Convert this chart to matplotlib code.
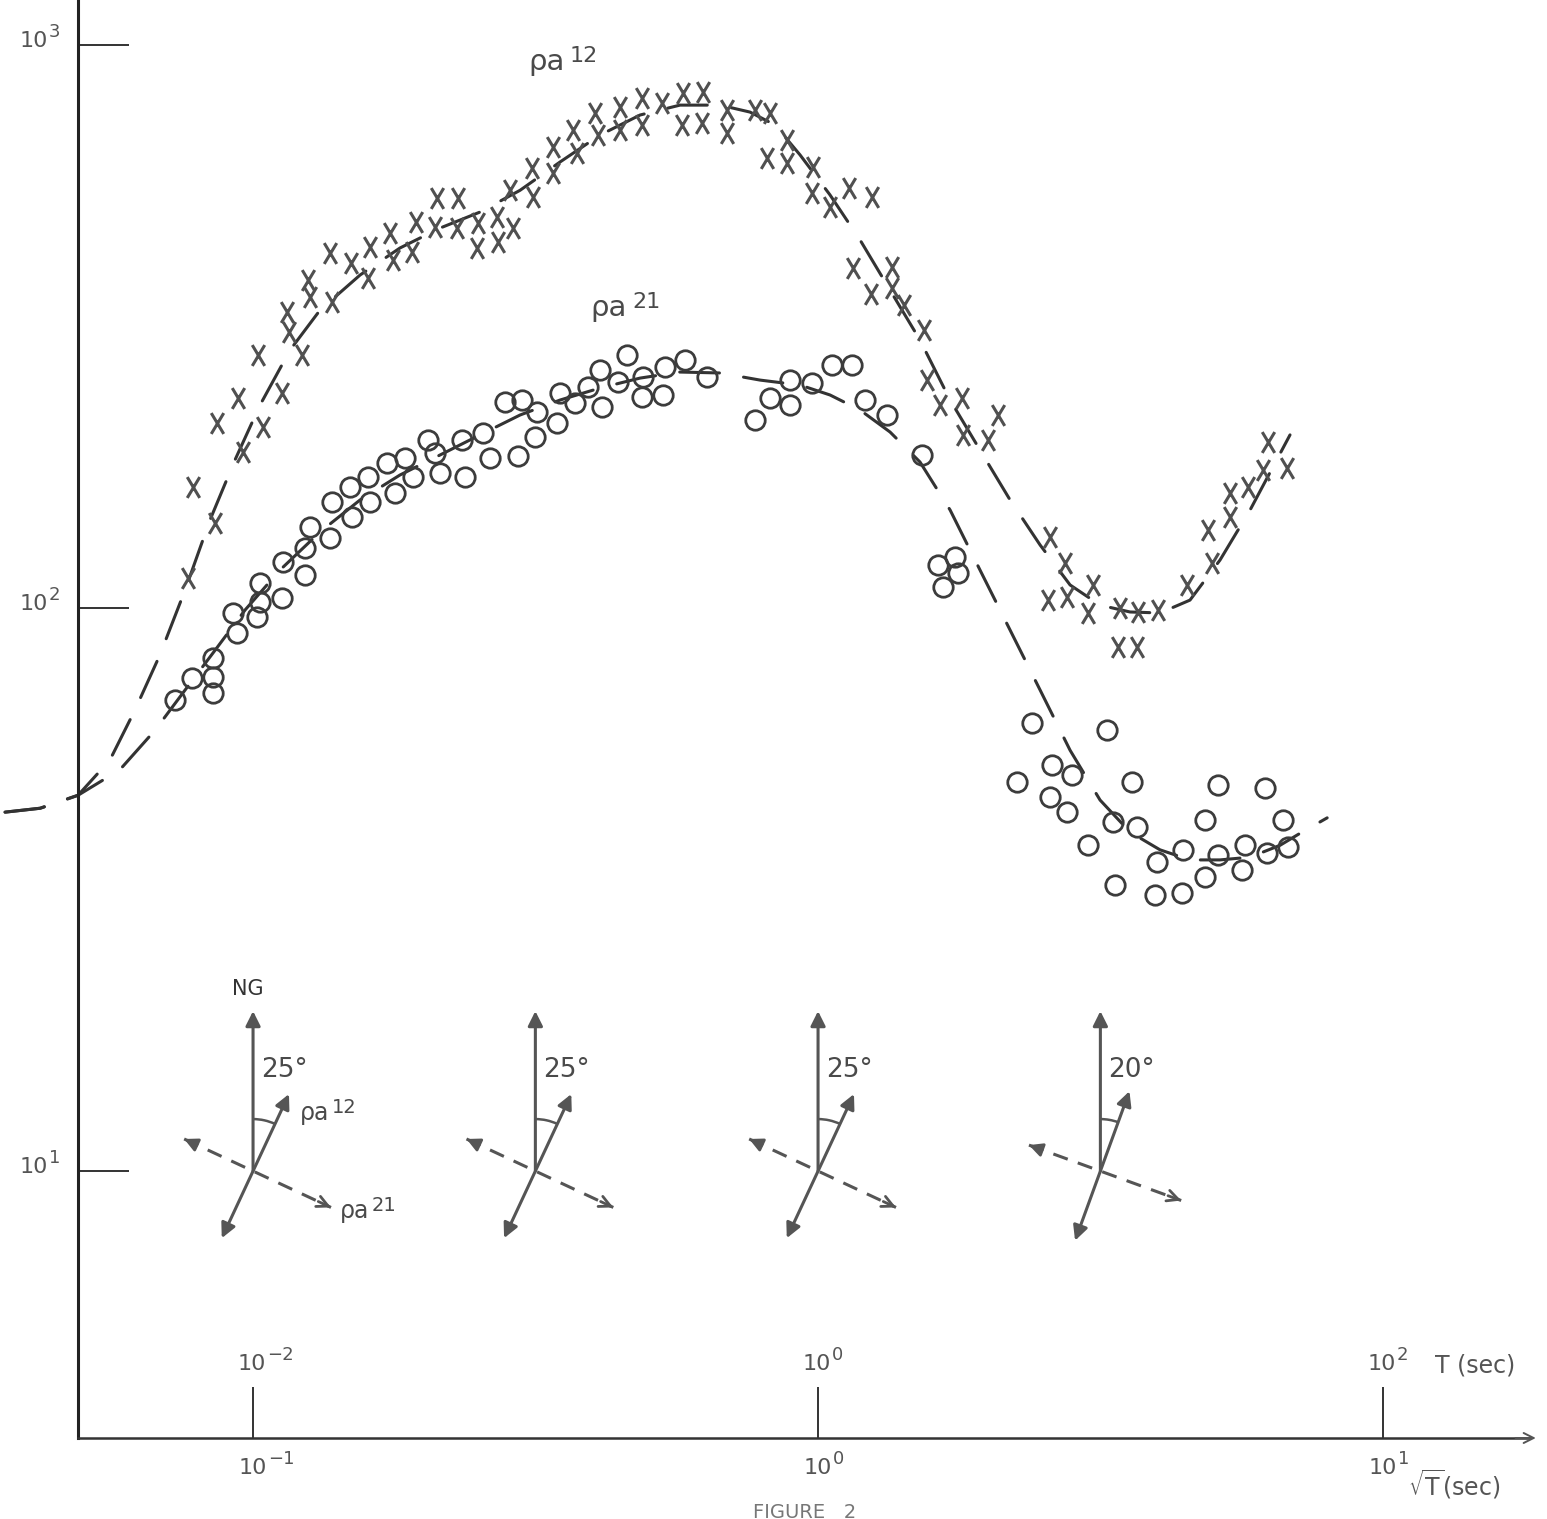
import numpy as np
import matplotlib
matplotlib.use('Agg')
import matplotlib.pyplot as plt
from matplotlib.path import Path
from matplotlib.patches import Arc
from matplotlib.ticker import NullLocator
from matplotlib.transforms import blended_transform_factory

plt.rcParams['font.family'] = ['DejaVu Sans']

# ---------------- data ----------------
# rho_a 12 measurements (crosses): x = sqrt(T) [sec^0.5], y = apparent resistivity
rho12_sqrtT = [0.0767, 0.0783, 0.0857, 0.0863, 0.0941, 0.0960, 0.102, 0.104, 0.1125, 0.122,
               0.115, 0.116, 0.125, 0.126, 0.138, 0.137, 0.149, 0.160, 0.161, 0.175,
               0.177, 0.191, 0.194, 0.212, 0.231, 0.210, 0.230, 0.250, 0.249, 0.270,
               0.271, 0.289, 0.285, 0.312, 0.313, 0.340, 0.340, 0.369, 0.375, 0.403,
               0.408, 0.446, 0.446, 0.488, 0.488, 0.530, 0.577, 0.626, 0.574, 0.623,
               0.690, 0.690, 0.774, 0.822, 0.881, 0.812, 0.881, 0.980, 0.976, 1.050,
               1.135, 1.246, 1.153, 1.241, 1.352, 1.352, 1.420, 1.540, 1.560, 1.644,
               1.798, 1.806, 2.000, 2.083, 2.574, 2.736, 2.553, 2.759, 3.067, 3.006,
               3.423, 3.685, 3.998, 3.396, 3.670, 4.498, 4.898, 4.980, 5.36, 5.36,
               5.77, 6.26, 6.13, 6.76]
rho12_val = [113, 164, 141.6, 213, 236, 189, 281, 210, 241, 281,
             336, 309, 382, 357, 350, 427, 410, 385, 437, 463,
             415, 429, 485, 535, 535, 475, 473, 483, 436, 495,
             447, 473, 552, 605, 537, 659, 592, 706, 643, 757,
             692, 776, 706, 805, 721, 789, 822, 825, 721, 727,
             766, 698, 766, 757, 678, 630, 617, 607, 546, 515,
             557, 537, 402, 361, 403, 370, 345, 312, 254, 229,
             236, 203, 199, 220, 133.7, 120, 103.3, 104.6, 109.9, 98.0,
             100, 98.4, 99.2, 85.3, 85.3, 109.9, 137.5, 120, 160, 145.1,
             164, 197, 175.8, 177]

# rho_a 21 measurements (circles)
rho21_sqrtT = [0.0728, 0.0780, 0.0850, 0.0850, 0.0850, 0.0937, 0.0922, 0.1017, 0.1029, 0.1029,
               0.1125, 0.1130, 0.1236, 0.1236, 0.1262, 0.1368, 0.138, 0.1486, 0.1496, 0.160,
               0.161, 0.1726, 0.1783, 0.1858, 0.1919, 0.2041, 0.210, 0.2143, 0.2344, 0.2372,
               0.2553, 0.2627, 0.2793, 0.2993, 0.2944, 0.3182, 0.3156, 0.3494, 0.3451, 0.3715,
               0.3917, 0.4113, 0.4147, 0.4426, 0.4592, 0.4900, 0.4881, 0.5361, 0.5317, 0.5816,
               0.6361, 0.7736, 0.8222, 0.8921, 0.8921, 0.9759, 1.059, 1.149, 1.211, 1.325,
               1.528, 1.631, 1.748, 1.769, 1.665, 2.392, 3.248, 2.250, 2.595, 2.816,
               3.596, 2.574, 2.759, 3.006, 3.327, 3.670, 5.105, 6.182, 4.841, 6.653,
               3.981, 4.426, 5.105, 5.700, 5.629, 6.233, 6.789, 3.355, 3.950, 4.408, 4.841]
rho21_val = [68.6, 75.1, 81.5, 75.4, 70.6, 90.3, 98.0, 96.4, 102.5, 110.8,
             104.2, 120.7, 114.4, 127.8, 139.3, 133.2, 154.3, 164, 145.1, 170.9,
             154.3, 180.9, 160, 184.7, 170.9, 198.6, 188.5, 173.7, 198.6, 170.9,
             204.6, 184.7, 232.2, 234.1, 186.2, 222.9, 201.3, 241, 213.1, 231.2,
             246.9, 264.7, 227.5, 252, 281, 257.2, 237.1, 267.9, 239, 275.7,
             257.2, 215.8, 236, 254, 229.4, 250.9, 270.2, 270.2, 234.1, 220.2,
             187.0, 119.2, 123.2, 115.4, 109.0, 62.5, 60.7, 49.1, 52.6, 50.5,
             49.1, 46.2, 43.4, 37.9, 41.7, 40.8, 48.5, 47.9, 42.0, 42.0,
             35.4, 37.2, 36.4, 37.9, 34.2, 36.7, 37.6, 32.2, 30.9, 31.2, 33.3]

# hand-drawn dashed interpretation curves
fit12_sqrtT = [0.0364, 0.0420, 0.0490, 0.0558, 0.0618, 0.0684, 0.0758, 0.0839, 0.0929, 0.1029,
               0.1163, 0.1314, 0.1547, 0.1820, 0.2143, 0.2522, 0.2969, 0.3494, 0.4113, 0.4842,
               0.5697, 0.6709, 0.7580, 0.8391, 0.9294, 1.050, 1.187, 1.341, 1.515, 1.713,
               1.935, 2.187, 2.472, 2.793, 3.156, 3.566, 4.030, 4.553, 5.146, 5.816, 6.844]
fit12_val = [43.4, 44.1, 46.5, 53.7, 65.9, 82.5, 107.6, 143.3, 183.2, 229.4,
             287.3, 338.2, 390.4, 436, 473, 505, 552, 619.7, 692, 751,
             782, 782, 760, 721, 637.8, 541.6, 450.4, 367, 299.2, 234.1,
             190.8, 155.6, 129.4, 109.9, 101.2, 98.4, 98.0, 103.3, 121.7, 149.3, 203]
fit21_sqrtT = [0.0364, 0.0420, 0.0490, 0.0581, 0.0671, 0.0758, 0.0857, 0.0968, 0.1116, 0.1314,
               0.1547, 0.1820, 0.2143, 0.2522, 0.2969, 0.3494, 0.4113, 0.4842, 0.5697, 0.6709,
               0.7898, 0.9294, 1.050, 1.187, 1.341, 1.515, 1.713, 1.935, 2.187, 2.472,
               2.793, 3.156, 3.566, 4.030, 4.553, 5.146, 5.816, 6.572, 7.129, 7.963]
fit21_val = [43.4, 44.1, 46.5, 51.6, 60.7, 71.5, 84.2, 99.2, 116.8, 136.5,
             155.6, 172.3, 187, 203, 220.2, 234.1, 245.9, 256.1, 262.5, 261.5,
             254, 248.9, 239, 224.7, 205.4, 181.7, 149.3, 116.8, 91.4, 71.5,
             55.9, 45.6, 40.0, 37.2, 35.7, 35.7, 36.1, 37.9, 39.8, 42.4]

# orientation diagrams (period position and angle from geographic north)
orient_sqrtT = [0.1, 0.316, 1.0, 3.16]
orient_deg = [25, 25, 25, 20]
orient_level = 10

yticks = [10, 100, 1000]
ytick_exp = ['1', '2', '3']
xticks = [0.1, 1, 10]
xtick_exp = ['\u22121', '0', '1']
T_ticks = [1e-2, 1e0, 1e2]
T_tick_exp = ['\u22122', '0', '2']

# ---------------- figure ----------------
W, H = 1547, 1519
fig = plt.figure(figsize=(W / 100, H / 100), dpi=100)
fig.patch.set_facecolor('white')
ax = fig.add_axes([78 / W, (H - 1438) / H, (1530 - 78) / W, 1438 / H])
ax.set_xscale('log')
ax.set_yscale('log')
ax.set_xlim(0.0490, 18.2)
ax.set_ylim(3.357, 1202)

LC = '#333333'
MC = '#505050'
CC = '#3c3c3c'
TC = '#4a4a4a'
KC = '#555555'

# dashed curves
for xs, ys in [(fit12_sqrtT, fit12_val), (fit21_sqrtT, fit21_val)]:
    ln, = ax.plot(xs, ys, color=LC, lw=2.2, clip_on=False, zorder=2)
    ln.set_dashes((13, 8))
    ln.set_dash_capstyle('round')

xmarker = Path([(-0.3, -0.5), (0.3, 0.5), (-0.3, 0.5), (0.3, -0.5)],
               [Path.MOVETO, Path.LINETO, Path.MOVETO, Path.LINETO])
ax.plot(rho12_sqrtT, rho12_val, ls='none', marker=xmarker, ms=15, mew=2.2,
        mec=MC, mfc='none', zorder=3)
ax.plot(rho21_sqrtT, rho21_val, ls='none', marker='o', ms=14, mew=2.0,
        mec=CC, mfc='none', zorder=3)

# spines / ticks
for s in ['top', 'right']:
    ax.spines[s].set_visible(False)
ax.spines['left'].set_linewidth(2.2)
ax.spines['bottom'].set_linewidth(1.8)
ax.spines['left'].set_color('#222222')
ax.spines['bottom'].set_color('#333333')
ax.set_xticks(xticks)
ax.set_yticks(yticks)
ax.set_xticklabels([])
ax.set_yticklabels([])
ax.xaxis.set_minor_locator(NullLocator())
ax.yaxis.set_minor_locator(NullLocator())
ax.tick_params(axis='both', which='major', direction='in', length=37, width=1.4,
               color='#333333')


def power_label(xy, trans, off, exp, fs=16, efs=13):
    ax.annotate('10', xy=xy, xycoords=trans, xytext=off, textcoords='offset pixels',
                ha='left', va='center', fontsize=fs, color=KC)
    ax.annotate(exp, xy=xy, xycoords=trans, xytext=(off[0] + 29, off[1] + 9),
                textcoords='offset pixels', ha='left', va='center', fontsize=efs, color=KC)


# y tick labels
yt = blended_transform_factory(ax.transAxes, ax.transData)
for v, e in zip(yticks, ytick_exp):
    power_label((0, v), yt, (-58, 4), e)

# x tick labels (sqrt T) below the axis, T labels above the ticks
bt = blended_transform_factory(ax.transData, ax.transAxes)
for v, e in zip(xticks, xtick_exp):
    power_label((v, 0), bt, (-14, -30), e)
for v, e in zip(T_ticks, T_tick_exp):
    power_label((np.sqrt(v), 0), bt, (-15, 74), e)

# arrow at end of horizontal axis
ax.annotate('', xy=(1.004, 0), xycoords='axes fraction', xytext=(0.99, 0),
            arrowprops=dict(arrowstyle='->', lw=1.4, color=KC, mutation_scale=18,
                            shrinkA=0, shrinkB=0))

# ---------------- overlay in pixel units ----------------
ov = fig.add_axes([0, 0, 1, 1])
ov.set_xlim(0, W)
ov.set_ylim(0, H)
ov.axis('off')


def py(y_from_top):
    return H - y_from_top


ov.text(1435, py(1366), 'T (sec)', fontsize=17, color=KC, ha='left', va='center')
ov.text(1408, py(1484), r'$\sqrt{\mathrm{T}}$(sec)', fontsize=17, color=KC,
        ha='left', va='center')
ov.text(805, py(1503), 'FIGURE   2', fontsize=14, color='#777777', ha='center', va='top')


def rho_label(x, y, sup, fs=19, sfs=15, dx=35, dy=8):
    ov.text(x, y, '\u03c1a', fontsize=fs, color=TC, ha='left', va='baseline')
    ov.text(x + dx, y + dy, sup, fontsize=sfs, color=TC, ha='left', va='baseline')


rho_label(528, py(70), '12', fs=21, sfs=16, dx=42)
rho_label(590, py(316), '21', fs=21, sfs=16, dx=42)

DC = '#555555'
fig.canvas.draw()
for i, (sx, a) in enumerate(zip(orient_sqrtT, orient_deg)):
    cx, cy = ax.transData.transform((sx, orient_level))
    r = np.deg2rad(a)
    u = np.array([np.sin(r), np.cos(r)])
    v = np.array([np.cos(r), -np.sin(r)])
    c = np.array([cx, cy])
    # north arrow
    ov.annotate('', xy=(cx, cy + 160), xytext=(cx, cy),
                arrowprops=dict(arrowstyle='-|>', lw=2.2, color=DC, mutation_scale=22,
                                shrinkA=0, shrinkB=0))
    # rho12 direction (solid, double headed)
    p1 = c + 85 * u
    p2 = c - 74 * u
    ov.annotate('', xy=p1, xytext=p2,
                arrowprops=dict(arrowstyle='<|-|>', lw=2.2, color=DC, mutation_scale=22,
                                shrinkA=0, shrinkB=0))
    # rho21 direction (dashed, perpendicular)
    q1 = c + 86 * v
    q2 = c - 76 * v
    ov.plot([q2[0], q1[0]], [q2[1], q1[1]], color=DC, lw=2.2, ls=(0, (5, 3.5)))
    ov.annotate('', xy=q1, xytext=q1 - 14 * v,
                arrowprops=dict(arrowstyle='->', lw=2.0, color=DC, mutation_scale=20,
                                shrinkA=0, shrinkB=0))
    ov.annotate('', xy=q2, xytext=q2 + 14 * v,
                arrowprops=dict(arrowstyle='-|>', lw=2.0, color=DC, mutation_scale=20,
                                shrinkA=0, shrinkB=0))
    ov.add_patch(Arc((cx, cy), 104, 104, theta1=90 - a, theta2=90, lw=1.8, color=DC))
    ov.text(cx + 8, cy + 101, f'{a}\u00b0', fontsize=19, color=TC, ha='left', va='center')
    if i == 0:
        ov.text(cx - 5, cy + 182, 'NG', fontsize=15, color='#333333', ha='center',
                va='center')
        rho_label(cx + 47, cy + 51, '12', fs=17, sfs=14, dx=32, dy=7)
        rho_label(cx + 87, cy - 47, '21', fs=17, sfs=14, dx=32, dy=7)

fig.savefig('out.png', dpi=100, facecolor='white')
